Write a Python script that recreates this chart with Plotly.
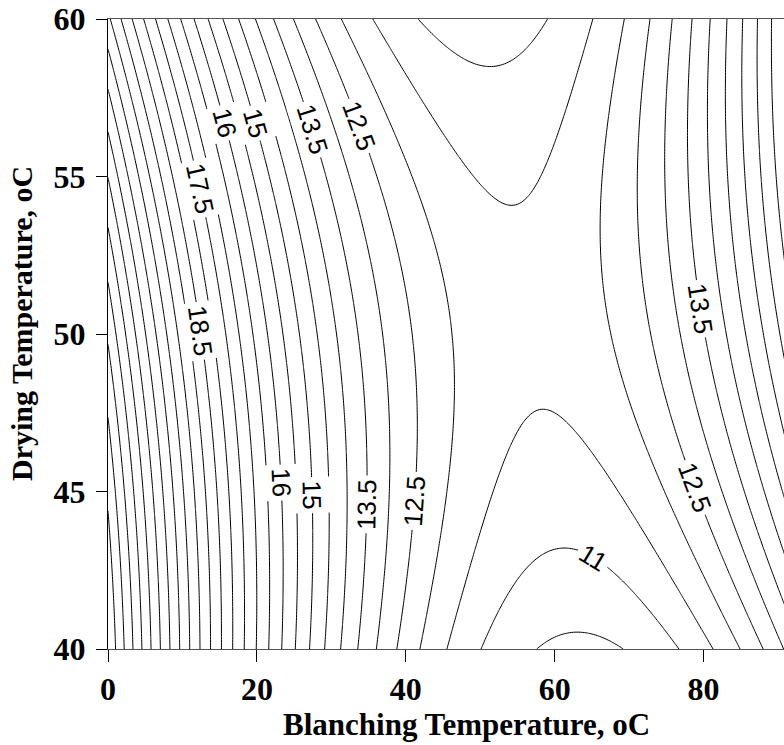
import math
import numpy as np
import plotly.graph_objects as go

# Fitted second-order response surface
# Y = b0 + b1*X1 + b2*X2 + b11*X1^2 + b22*X2^2 + b12*X1*X2
# X1 = blanching temperature (oC), X2 = drying temperature (oC)
coef_names = ["b0", "b1", "b2", "b11", "b22", "b12"]
coef_values = [12.677, -0.6265, 0.6519, 0.0035, -0.00894, 0.004568]

# Experimental region
blanch_limits = [0.0, 100.0]
drying_limits = [40.0, 60.0]

# Contour levels
level_start = 10.5
level_end = 25.0
level_step = 0.5

# Contour labels: level and approximate (blanching, drying) location
label_levels = [16, 15, 13.5, 12.5, 17.5, 18.5, 16, 15, 13.5, 12.5, 13.5, 12.5, 11]
label_blanch = [15.7, 19.8, 27.4, 33.6, 12.4, 12.4, 23.4, 27.4, 35.0, 41.3, 79.6, 78.7, 65.0]
label_drying = [56.7, 56.7, 56.5, 56.6, 54.6, 50.1, 45.3, 44.9, 44.6, 44.7, 50.8, 45.1, 42.8]

c = dict(zip(coef_names, coef_values))


def response(x1, x2):
    return (c["b0"] + c["b1"] * x1 + c["b2"] * x2 + c["b11"] * x1 ** 2
            + c["b22"] * x2 ** 2 + c["b12"] * x1 * x2)


def gradient(x1, x2):
    d1 = c["b1"] + 2 * c["b11"] * x1 + c["b12"] * x2
    d2 = c["b2"] + 2 * c["b22"] * x2 + c["b12"] * x1
    return d1, d2


x_grid = np.linspace(blanch_limits[0], blanch_limits[1], 401)
y_grid = np.linspace(drying_limits[0], drying_limits[1], 201)
X1, X2 = np.meshgrid(x_grid, y_grid)
Z = response(X1, X2)

# plot geometry (pixels)
W, H = 784, 745
L, R, T, B = 108, 0, 19, 96
x_range = [0, 90.8]
y_range = [40, 60]
sx = (W - L - R) / (x_range[1] - x_range[0])
sy = (H - T - B) / (y_range[1] - y_range[0])

fig = go.Figure()
fig.add_trace(go.Contour(
    x=x_grid, y=y_grid, z=Z,
    contours=dict(coloring="lines", start=level_start, end=level_end,
                  size=level_step, showlabels=False),
    colorscale=[[0, "black"], [1, "black"]],
    line=dict(width=1, smoothing=1),
    showscale=False, hoverinfo="skip",
))

annotations = []
for lev, x0, y0 in zip(label_levels, label_blanch, label_drying):
    px, py = x0, y0
    # move the label point onto its contour line
    for _ in range(8):
        g1, g2 = gradient(px, py)
        n2 = (g1 / sx) ** 2 + (g2 / sy) ** 2
        err = response(px, py) - lev
        px -= err * (g1 / sx ** 2) / n2
        py -= err * (g2 / sy ** 2) / n2
    g1, g2 = gradient(px, py)
    ang = math.degrees(math.atan2(sy * g1, sx * g2))
    while ang > 90:
        ang -= 180
    while ang <= -90:
        ang += 180
    annotations.append(dict(
        x=px, y=py, xref="x", yref="y", text="%g" % lev, showarrow=False,
        textangle=ang, bgcolor="white", borderpad=3,
        font=dict(family="Liberation Sans Narrow, Arial Narrow, Liberation Sans, Arial",
                  size=26, color="black"),
    ))

serif = "Liberation Serif, Times New Roman, serif"
annotations.append(dict(
    x=(466 - L) / (W - L - R), y=(H - B - 724) / (H - T - B), xref="paper", yref="paper",
    text="<b>Blanching Temperature, oC</b>", showarrow=False,
    xanchor="center", yanchor="middle",
    font=dict(family=serif, size=31, color="black"),
))
annotations.append(dict(
    x=(22 - L) / (W - L - R), y=(H - B - 324) / (H - T - B), xref="paper", yref="paper",
    text="<b>Drying Temperature, oC</b>", showarrow=False, textangle=-90,
    xanchor="center", yanchor="middle",
    font=dict(family=serif, size=30, color="black"),
))

tick_font = dict(family=serif, size=32, color="black", weight="bold")
fig.update_layout(
    width=W, height=H,
    margin=dict(l=L, r=R, t=T, b=B, pad=0),
    paper_bgcolor="white", plot_bgcolor="white",
    showlegend=False,
    annotations=annotations,
    xaxis=dict(range=x_range, tickvals=[0, 20, 40, 60, 80], ticks="outside",
               ticklen=12, tickwidth=1, tickcolor="black",
               showline=True, linecolor="#555", linewidth=1, mirror=True,
               showgrid=False, zeroline=False, ticklabelstandoff=0,
               tickfont=tick_font),
    yaxis=dict(range=y_range, tickvals=[40, 45, 50, 55, 60], ticks="outside",
               ticklen=11, tickwidth=1, tickcolor="black",
               showline=True, linecolor="black", linewidth=1, mirror=False,
               showgrid=False, zeroline=False, ticklabelstandoff=4,
               tickfont=tick_font),
)

fig.write_html("out.html")
